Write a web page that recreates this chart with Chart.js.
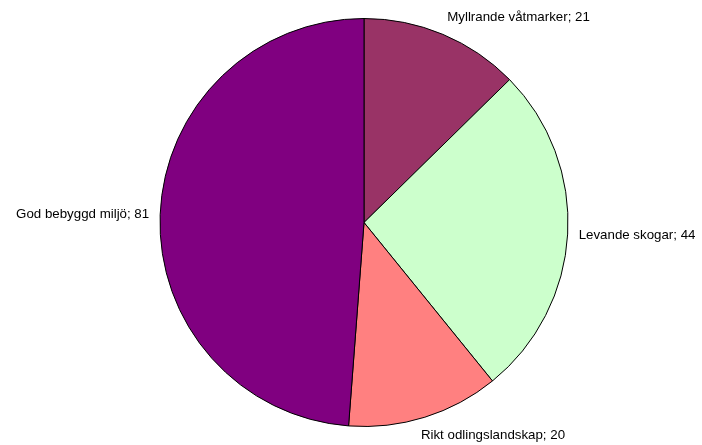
<!DOCTYPE html>
<html>
<head>
<meta charset="utf-8">
<script src="https://cdn.jsdelivr.net/npm/chart.js@4"></script>
<style>
  html, body { margin: 0; padding: 0; background: #ffffff; }
  #wrap { width: 702px; height: 445px; }
</style>
</head>
<body>
<div id="wrap"><canvas id="pieChart" width="702" height="445"></canvas></div>
<script>
// Chart data
const categories = ['Myllrande våtmarker', 'Levande skogar', 'Rikt odlingslandskap', 'God bebyggd miljö'];
const values = [21, 44, 20, 81];
const sliceColors = ['#993366', '#CCFFCC', '#FF8080', '#800080'];

// Draws "name; value" labels outside each slice
const outsideLabels = {
  id: 'outsideLabels',
  afterDatasetsDraw(chart) {
    const ctx = chart.ctx;
    const meta = chart.getDatasetMeta(0);
    ctx.save();
    ctx.font = '13.3px "Liberation Sans", Arial, sans-serif';
    ctx.fillStyle = '#000000';
    meta.data.forEach((arc, i) => {
      const p = arc.getProps(['x', 'y', 'startAngle', 'endAngle', 'outerRadius'], true);
      const mid = (p.startAngle + p.endAngle) / 2;
      const r = p.outerRadius + 11;
      const cos = Math.cos(mid);
      const sin = Math.sin(mid);
      const ax = p.x + cos * r;
      const ay = p.y + sin * r;
      const text = categories[i] + '; ' + values[i];
      // lower labels shift back towards the middle a little
      const shift = sin > 0.5 ? -ctx.measureText(text).width * 0.05 : 0;
      ctx.textAlign = cos >= 0 ? 'left' : 'right';
      ctx.textBaseline = 'middle';
      ctx.fillText(text, ax + shift, ay + sin * 8);
    });
    ctx.restore();
  }
};

const ctx = document.getElementById('pieChart').getContext('2d');
new Chart(ctx, {
  type: 'pie',
  data: {
    labels: categories,
    datasets: [{
      data: values,
      backgroundColor: sliceColors,
      borderColor: '#000000',
      borderWidth: 1
    }]
  },
  options: {
    responsive: false,
    animation: false,
    layout: {
      padding: { top: 18, bottom: 18, left: 26, right: 0 }
    },
    plugins: {
      legend: { display: false },
      tooltip: { enabled: false }
    }
  },
  plugins: [outsideLabels]
});
</script>
</body>
</html>
